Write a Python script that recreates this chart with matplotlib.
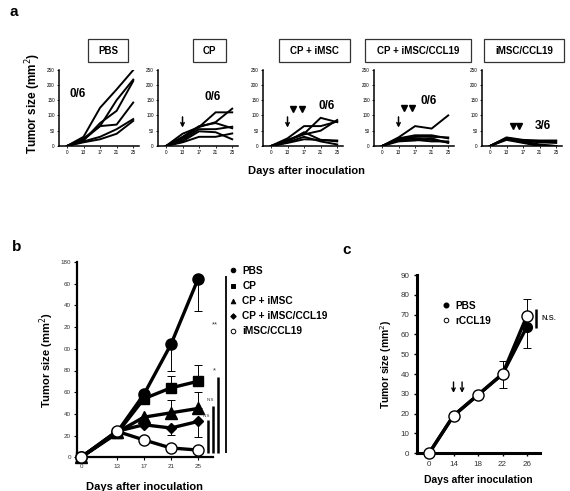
import matplotlib
matplotlib.use("Agg")
import matplotlib.pyplot as plt
import numpy as np
from matplotlib.lines import Line2D

plt.rcParams['font.family'] = ['Liberation Sans', 'DejaVu Sans']

W, H = 570, 491

# ---------------- data ----------------
days_a = ['0', '13', '17', '21', '25']
group_titles = ['PBS', 'CP', 'CP + iMSC', 'CP + iMSC/CCL19', 'iMSC/CCL19']
free_counts = ['0/6', '0/6', '0/6', '0/6', '3/6']

pbs_lines = [[0, 30, 125, 185, 248],
             [0, 20, 65, 150, 217],
             [0, 18, 75, 115, 212],
             [0, 25, 65, 70, 142],
             [0, 15, 30, 55, 88],
             [0, 12, 22, 40, 82]]
cp_lines = [[0, 25, 62, 110, 110],
            [0, 40, 62, 78, 122],
            [0, 30, 65, 75, 58],
            [0, 20, 55, 55, 63],
            [0, 15, 48, 45, 22],
            [0, 12, 30, 30, 41]]
cp_imsc_lines = [[0, 25, 65, 65, 80],
                 [0, 20, 40, 92, 78],
                 [0, 18, 38, 50, 85],
                 [0, 15, 45, 20, 18],
                 [0, 12, 30, 15, 5],
                 [0, 10, 22, 20, 15]]
cp_imsc_ccl19_lines = [[0, 28, 65, 57, 100],
                       [0, 25, 35, 35, 25],
                       [0, 22, 30, 30, 28],
                       [0, 20, 25, 20, 12],
                       [0, 18, 20, 15, 15],
                       [0, 15, 18, 25, 10]]
imsc_ccl19_lines = [[0, 28, 20, 18, 18],
                    [0, 26, 18, 15, 15],
                    [0, 25, 17, 12, 10],
                    [0, 24, 15, 5, 0],
                    [0, 22, 12, 2, 0],
                    [0, 20, 10, 0, 0]]
yticks_a = [0, 50, 100, 150, 200, 250]

# panel b
days_b = ['0', '13', '17', '21', '25']
b_labels = ['PBS', 'CP', 'CP + iMSC', 'CP + iMSC/CCL19', 'iMSC/CCL19']
b_pbs = [0, 23, 58, 104, 164]
b_pbs_lo = [0, 0, 0, 24, 29]
b_cp = [0, 22, 54, 64, 70]
b_cp_hi = [0, 0, 0, 11, 15]
b_cpimsc = [0, 23, 37, 41, 45]
b_cpimsc_hi = [0, 0, 0, 12, 15]
b_cpccl = [0, 24, 30, 27, 33]
b_cpccl_lo = [0, 0, 0, 6.5, 14]
b_ccl = [0, 24, 16, 8.6, 6.7]
yticks_b = [0, 20, 40, 60, 80, 100, 120, 140, 160, 180]
yticklabels_b = ['0', '20', '40', '60', '80', '00', '20', '40', '60', '180']
sig_labels_b = ['**', '*', 'N.S', 'N.S']

# panel c
days_c = ['0', '14', '18', '22', '26']
c_labels = ['PBS', 'rCCL19']
c_pbs = [0, 19, 29.5, 40, 64]
c_pbs_lo = [0, 0, 0, 7, 11]
c_rccl = [0, 19, 29.5, 40, 69.5]
c_rccl_hi = [0, 0, 0, 6.5, 8.5]
yticks_c = [0, 10, 20, 30, 40, 50, 60, 70, 80, 90]

fig = plt.figure(figsize=(W / 100, H / 100), dpi=100)


def add_ax(l, t, r, b):
    return fig.add_axes([l / W, 1 - b / H, (r - l) / W, (b - t) / H])


def fx(x):
    return x / W


def fy(y):
    return 1 - y / H


# ---------------- panel a ----------------
fig.text(fx(10), fy(12), 'a', fontsize=11, fontweight='bold', va='center')
lefts = [59, 158, 263, 374, 482]
box_lr = [(88, 128), (193, 226), (279, 350), (365, 471), (484, 564)]
all_lines = [pbs_lines, cp_lines, cp_imsc_lines, cp_imsc_ccl19_lines, imsc_ccl19_lines]
count_pos = [(78, 94), (213, 97), (327, 106), (429, 101), (543, 126)]
xs = np.arange(len(days_a))
axes_a = []
for i, lines in enumerate(all_lines):
    ax = add_ax(lefts[i], 69.5, lefts[i] + 80, 146)
    axes_a.append(ax)
    for ln in lines:
        ax.plot(xs, ln, color='black', lw=1.4, solid_joinstyle='miter')
    ax.set_xlim(-0.48, 4.35)
    ax.set_ylim(0, 250)
    ax.set_xticks(xs)
    ax.set_xticklabels(days_a)
    ax.set_yticks(yticks_a)
    ax.tick_params(labelsize=3.3, length=1.5, width=0.6, pad=1.5, colors='black')
    for s in ['top', 'right']:
        ax.spines[s].set_visible(False)
    for s in ['left', 'bottom']:
        ax.spines[s].set_linewidth(1.1)
    l, r = box_lr[i]
    fig.text(fx((l + r) / 2), fy(50.5), group_titles[i], fontsize=7, fontweight='bold',
             ha='center', va='center')
    fig.patches.append(plt.Rectangle((fx(l), fy(62)), fx(r - l), (62 - 39) / H,
                                     transform=fig.transFigure, fill=False,
                                     edgecolor='#333333', lw=0.9))
    cx, cy = count_pos[i]
    fig.text(fx(cx), fy(cy), free_counts[i], fontsize=8.5, fontweight='bold',
             ha='center', va='center')

arrow_specs = [(1, 1.0), (2, 1.0), (3, 1.0)]
for idx, xpos in arrow_specs:
    axes_a[idx].annotate('', xy=(xpos, 60), xytext=(xpos, 95),
                         arrowprops=dict(arrowstyle='->', lw=1.1, color='black',
                                         shrinkA=0, shrinkB=0, mutation_scale=6),
                         annotation_clip=False)
tri_specs = [(2, [1.35, 1.85], 120), (3, [1.35, 1.8], 125), (4, [1.4, 1.75], 66)]
for idx, txs, ty in tri_specs:
    axes_a[idx].plot(txs, [ty] * len(txs), linestyle='none', marker='v',
                     color='black', markersize=5, clip_on=False)

fig.text(fx(33), fy(103), 'Tumor size (mm$^2$)', rotation=90, fontsize=8.5,
         fontweight='bold', ha='center', va='center')
fig.text(fx(306), fy(171), 'Days after inoculation', fontsize=8, fontweight='bold',
         ha='center', va='center')

# ---------------- panel b ----------------
fig.text(fx(12), fy(247), 'b', fontsize=11, fontweight='bold', va='center')
axb = add_ax(77, 262, 213, 457.3)
xb = np.array([0, 1.33, 2.33, 3.33, 4.33])
zeros = np.zeros(len(days_b))
lw_b = 2.4
for vals, lo, hi in [(b_pbs, b_pbs_lo, zeros), (b_cp, zeros, b_cp_hi),
                     (b_cpimsc, zeros, b_cpimsc_hi), (b_cpccl, b_cpccl_lo, zeros)]:
    axb.errorbar(xb, vals, yerr=[lo, hi], fmt='none', ecolor='black',
                 elinewidth=0.7, capsize=3, capthick=0.7, zorder=2)
axb.plot(xb, b_pbs, color='black', lw=lw_b, marker='o', markersize=8, clip_on=False, zorder=3)
axb.plot(xb, b_cp, color='black', lw=lw_b, marker='s', markersize=7.5, clip_on=False, zorder=3)
axb.plot(xb, b_cpimsc, color='black', lw=lw_b, marker='^', markersize=8, clip_on=False, zorder=3)
axb.plot(xb, b_cpccl, color='black', lw=lw_b, marker='D', markersize=5.5, clip_on=False, zorder=3)
axb.plot(xb, b_ccl, color='black', lw=lw_b, marker='o', markersize=8, markerfacecolor='white',
         markeredgecolor='black', markeredgewidth=1.0, clip_on=False, zorder=4)
axb.set_xlim(-0.15, 4.89)
axb.set_ylim(0, 180)
axb.set_xticks(xb)
axb.set_xticklabels(days_b)
axb.set_yticks(yticks_b)
axb.set_yticklabels(yticklabels_b)
axb.tick_params(labelsize=4.5, length=2, width=0.8, pad=2.5, colors='black',
                labelcolor='#333333')
for s in ['top', 'right']:
    axb.spines[s].set_visible(False)
for s in ['left', 'bottom']:
    axb.spines[s].set_linewidth(1.6)
axb.set_ylabel('Tumor size (mm$^2$)', fontsize=8, fontweight='bold', labelpad=3)
axb.set_xlabel('Days after inoculation', fontsize=8, fontweight='bold', labelpad=10)

# significance bars (x in data coords of panel b)
sig_bars = [(5.37, 167, 1.3), (5.07, 74, 1.8), (4.89, 47, 1.8), (4.70, 34, 1.8)]
sig_text = [(4.97, 122, 5.5), (4.95, 80, 5.5), (4.78, 53, 3.2), (4.66, 38, 3.2)]
for (x, top, lw), lab, (tx, ty, fs) in zip(sig_bars, sig_labels_b, sig_text):
    axb.plot([x, x], [4, top], color='black', lw=lw, clip_on=False, solid_capstyle='butt')
    axb.text(tx, ty, lab, fontsize=fs, ha='center', va='center', color='#333333')

leg_markers = [dict(marker='o', mfc='black'), dict(marker='s', mfc='black'),
               dict(marker='^', mfc='black'), dict(marker='D', mfc='black', markersize=2.8),
               dict(marker='o', mfc='white')]
handles = []
for lab, mk in zip(b_labels, leg_markers):
    ms = mk.pop('markersize', 3.3)
    handles.append(Line2D([], [], linestyle='none', color='black', markeredgecolor='black',
                          markeredgewidth=0.7, markersize=ms, label=lab, **mk))
fig.legend(handles=handles, loc='upper left', bbox_to_anchor=(fx(230), fy(266)),
           frameon=False, prop=dict(size=7.3, weight='bold'), handlelength=0.6,
           handletextpad=0.6, labelspacing=0.5, borderaxespad=0, borderpad=0)

# ---------------- panel c ----------------
fig.text(fx(342), fy(250), 'c', fontsize=11, fontweight='bold', va='center')
axc = add_ax(417, 275, 540, 453.3)
xc = np.arange(len(days_c))
zc = np.zeros(len(days_c))
axc.errorbar(xc, c_pbs, yerr=[c_pbs_lo, zc], fmt='none', ecolor='black', elinewidth=0.7,
             capsize=3, capthick=0.7, zorder=2)
axc.errorbar(xc, c_rccl, yerr=[zc, c_rccl_hi], fmt='none', ecolor='black', elinewidth=0.7,
             capsize=3, capthick=0.7, zorder=2)
axc.plot(xc, c_pbs, color='black', lw=2.4, marker='o', markersize=7, clip_on=False, zorder=3)
axc.plot(xc, c_rccl, color='black', lw=2.4, marker='o', markersize=8, markerfacecolor='white',
         markeredgewidth=1.0, clip_on=False, zorder=4)
axc.set_xlim(-0.49, 4.53)
axc.set_ylim(0, 90)
axc.set_xticks(xc)
axc.set_xticklabels(days_c)
axc.set_yticks(yticks_c)
axc.tick_params(labelsize=5.8, length=2.5, width=1.0, pad=3, colors='black',
                labelcolor='#333333')
for s in ['top', 'right']:
    axc.spines[s].set_visible(False)
for s in ['left', 'bottom']:
    axc.spines[s].set_linewidth(2.2)
axc.set_ylabel('Tumor size (mm$^2$)', fontsize=7.5, fontweight='bold', labelpad=5)
axc.set_xlabel('Days after inoculation', fontsize=7.5, fontweight='bold', labelpad=5)

for xa in [1.0, 1.35]:
    axc.annotate('', xy=(xa, 30.5), xytext=(xa, 36),
                 arrowprops=dict(arrowstyle='->', lw=1.0, color='black', shrinkA=0,
                                 shrinkB=0, mutation_scale=6))
axc.plot([4.35, 4.35], [63, 73], color='black', lw=1.8, clip_on=False, solid_capstyle='butt')
axc.text(4.9, 68, 'N.S.', fontsize=5.5, fontweight='bold', ha='center', va='center',
         color='#333333')

hc = [Line2D([], [], linestyle='none', marker='o', color='black', markersize=3.3,
             label=c_labels[0]),
      Line2D([], [], linestyle='none', marker='o', color='black', markerfacecolor='white',
             markeredgewidth=0.7, markersize=3.3, label=c_labels[1])]
fig.legend(handles=hc, loc='upper left', bbox_to_anchor=(fx(443), fy(301)), frameon=False,
           prop=dict(size=7.3, weight='bold'), handlelength=0.6, handletextpad=0.6,
           labelspacing=0.45, borderaxespad=0, borderpad=0)

fig.savefig('out.png', dpi=100)
